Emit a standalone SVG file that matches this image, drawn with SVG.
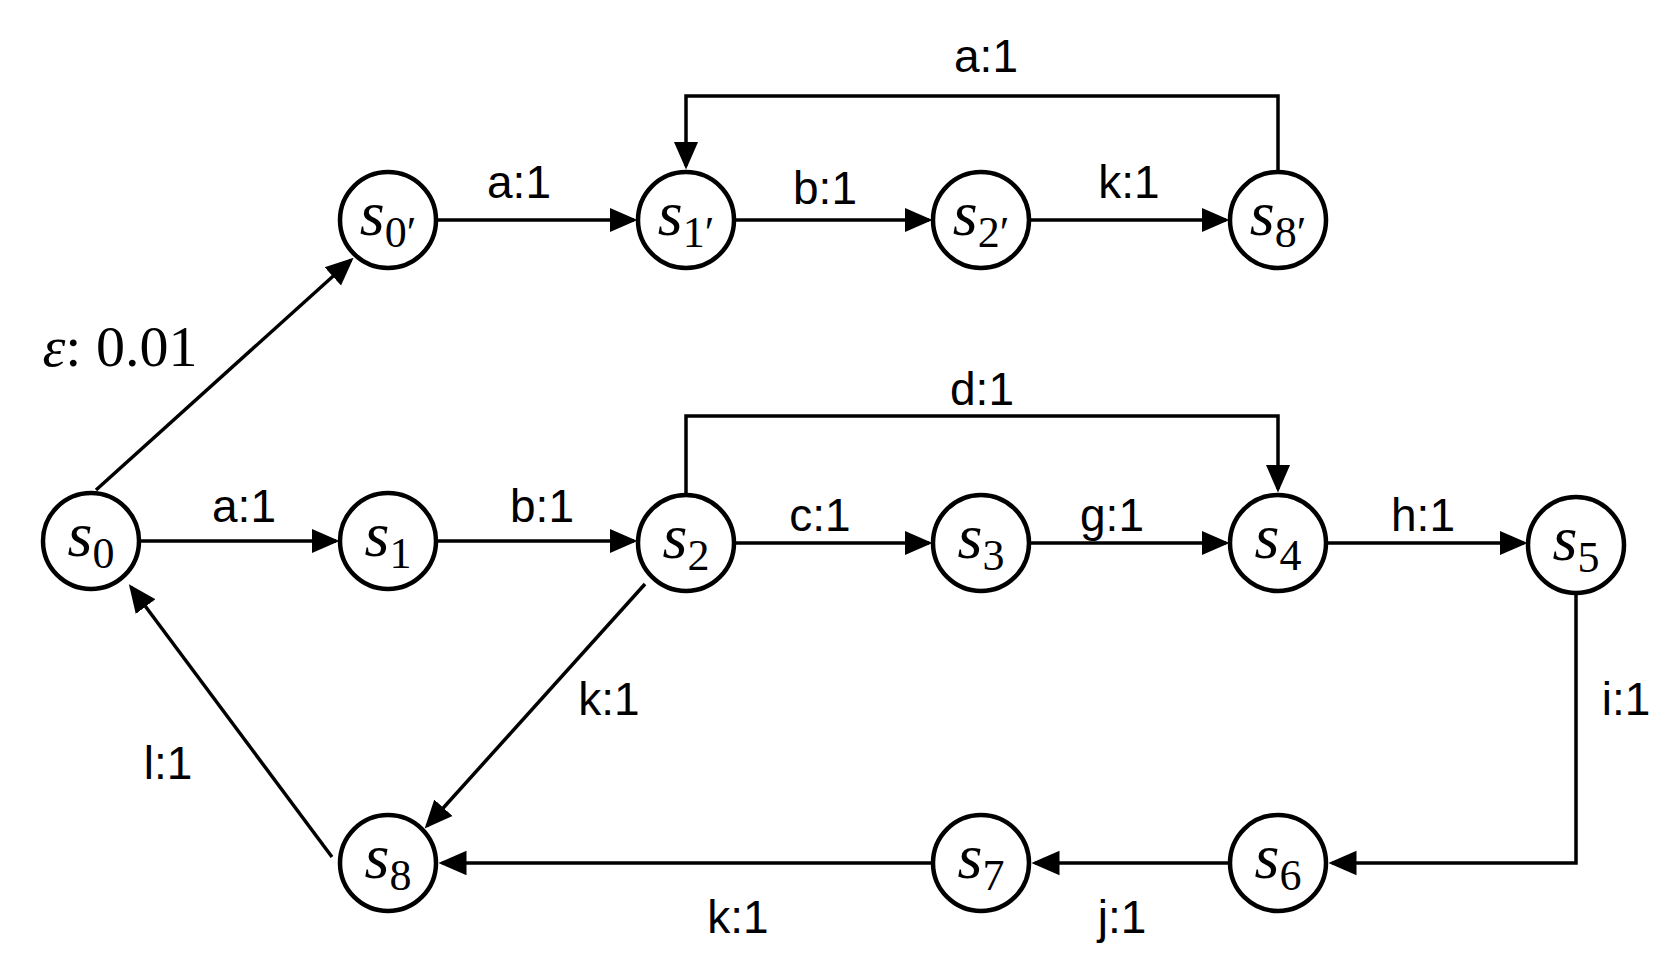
<svg xmlns="http://www.w3.org/2000/svg" width="1672" height="978" viewBox="0 0 1672 978">
<style>
.n{fill:#fff;stroke:#000;stroke-width:4.5}
.s{font-family:"Liberation Serif",serif;font-style:italic;font-size:64px;text-anchor:middle}
.sub{font-style:normal;font-size:44px}
.l{font-family:"Liberation Sans",Arial,sans-serif;font-size:46px;text-anchor:middle}
.e{stroke:#000;stroke-width:3.5;fill:none;marker-end:url(#a)}
</style>
<defs><marker id="a" markerWidth="8" markerHeight="8" refX="7" refY="4" orient="auto" markerUnits="strokeWidth"><path d="M0,0.5 L8,4 L0,7.5 Z" fill="#000"/></marker></defs>
<rect width="1672" height="978" fill="#fff"/>
<g id="connectors">
<path class="e" d="M139,541 H336"/>
<path class="e" d="M436,541 H634"/>
<path class="e" d="M734,543 H929"/>
<path class="e" d="M1029,543 H1226"/>
<path class="e" d="M1326,543 H1524"/>
<path class="e" d="M436,220 H634"/>
<path class="e" d="M734,220 H929"/>
<path class="e" d="M1029,220 H1226"/>
<path class="e" d="M1278,172 V96 H686 V166"/>
<path class="e" d="M686,495 V416 H1278 V489"/>
<path class="e" d="M1576,593 V863 H1332"/>
<path class="e" d="M1230,863 H1035"/>
<path class="e" d="M933,863 H442"/>
<path class="e" d="M645,584 L427,826"/>
<path class="e" d="M332,857 L131,587"/>
<path class="e" d="M96,490 L351,260"/>
</g>
<g class="l">
<text x="986" y="72">a:1</text>
<text x="519" y="198">a:1</text>
<text x="825" y="204">b:1</text>
<text x="1129" y="198">k:1</text>
<text x="982" y="405">d:1</text>
<text x="244" y="522">a:1</text>
<text x="542" y="522">b:1</text>
<text x="820" y="531">c:1</text>
<text x="1112" y="531">g:1</text>
<text x="1423" y="531">h:1</text>
<text x="609" y="715">k:1</text>
<text x="168" y="779">l:1</text>
<text x="1626" y="715">i:1</text>
<text x="738" y="933">k:1</text>
<text x="1122" y="933">j:1</text>
<text x="120" y="366" style="font-family:'Liberation Serif',serif;font-size:58px"><tspan font-style="italic">ε</tspan>: 0.01</text>
</g>
<g id="s0"><circle class="n" cx="91" cy="541" r="48"/><text class="s" x="91" y="556">s<tspan class="sub" dy="12">0</tspan></text></g>
<g id="s1"><circle class="n" cx="388" cy="541" r="48"/><text class="s" x="388" y="556">s<tspan class="sub" dy="12">1</tspan></text></g>
<g id="s2"><circle class="n" cx="686" cy="543" r="48"/><text class="s" x="686" y="558">s<tspan class="sub" dy="12">2</tspan></text></g>
<g id="s3"><circle class="n" cx="981" cy="543" r="48"/><text class="s" x="981" y="558">s<tspan class="sub" dy="12">3</tspan></text></g>
<g id="s4"><circle class="n" cx="1278" cy="543" r="48"/><text class="s" x="1278" y="558">s<tspan class="sub" dy="12">4</tspan></text></g>
<g id="s5"><circle class="n" cx="1576" cy="545" r="48"/><text class="s" x="1576" y="560">s<tspan class="sub" dy="12">5</tspan></text></g>
<g id="s0p"><circle class="n" cx="388" cy="220" r="48"/><text class="s" x="388" y="235">s<tspan class="sub" dy="12">0′</tspan></text></g>
<g id="s1p"><circle class="n" cx="686" cy="220" r="48"/><text class="s" x="686" y="235">s<tspan class="sub" dy="12">1′</tspan></text></g>
<g id="s2p"><circle class="n" cx="981" cy="220" r="48"/><text class="s" x="981" y="235">s<tspan class="sub" dy="12">2′</tspan></text></g>
<g id="s8p"><circle class="n" cx="1278" cy="220" r="48"/><text class="s" x="1278" y="235">s<tspan class="sub" dy="12">8′</tspan></text></g>
<g id="s8"><circle class="n" cx="388" cy="863" r="48"/><text class="s" x="388" y="878">s<tspan class="sub" dy="12">8</tspan></text></g>
<g id="s7"><circle class="n" cx="981" cy="863" r="48"/><text class="s" x="981" y="878">s<tspan class="sub" dy="12">7</tspan></text></g>
<g id="s6"><circle class="n" cx="1278" cy="863" r="48"/><text class="s" x="1278" y="878">s<tspan class="sub" dy="12">6</tspan></text></g>
</svg>
